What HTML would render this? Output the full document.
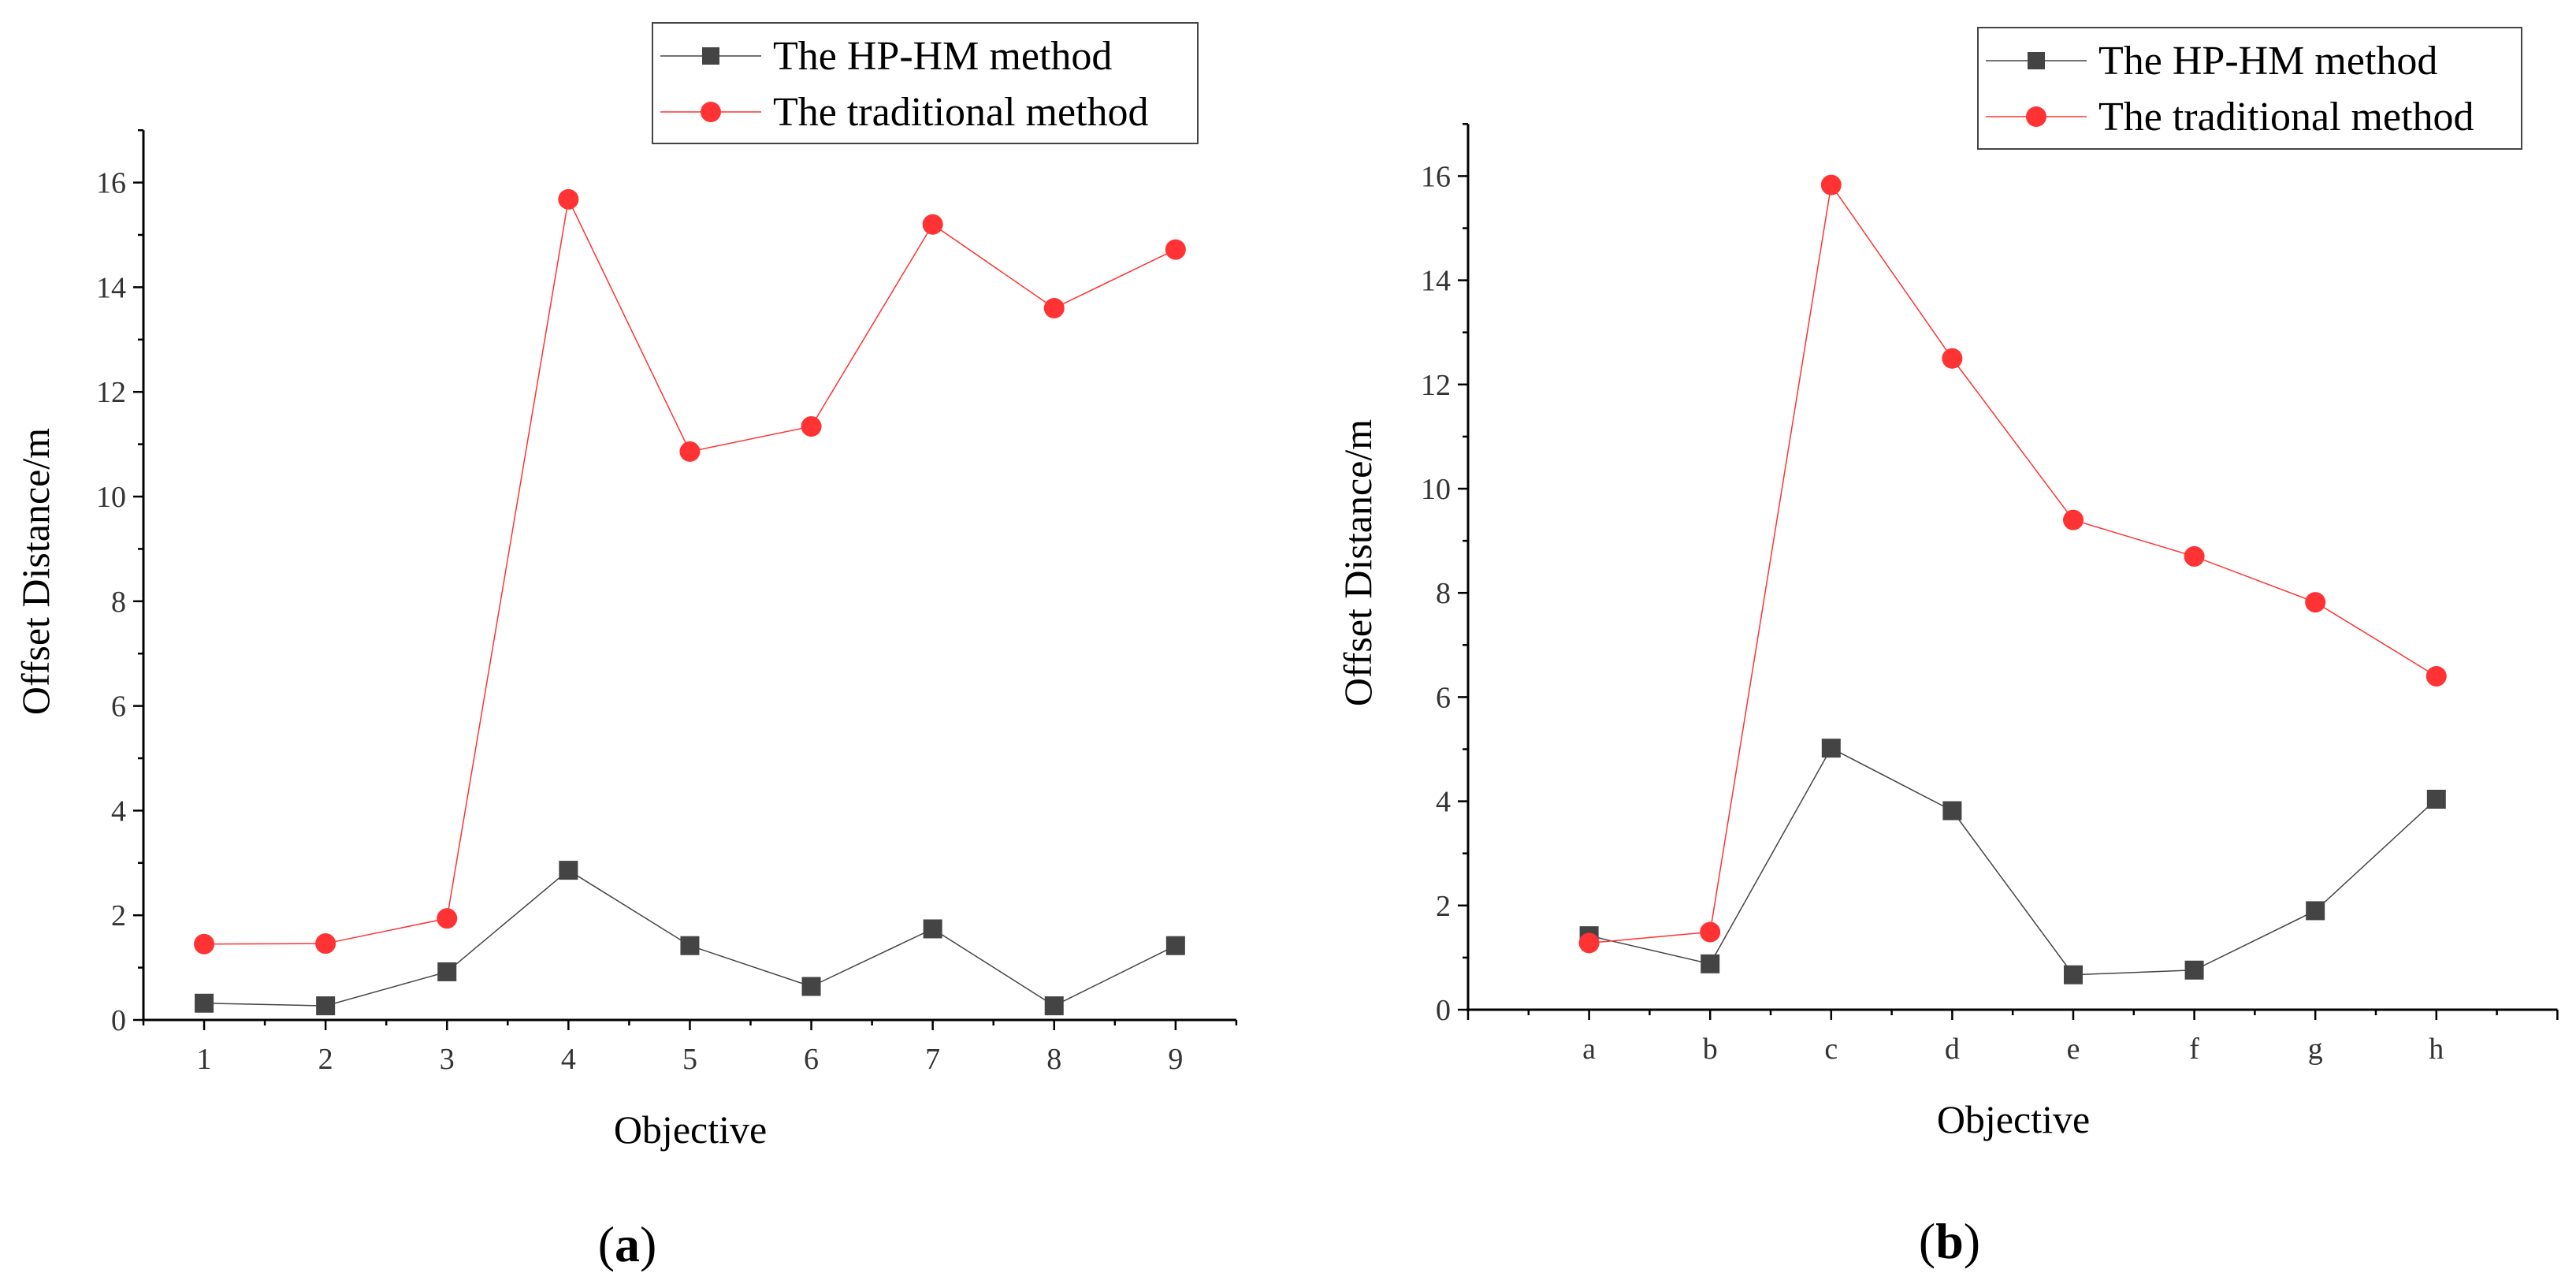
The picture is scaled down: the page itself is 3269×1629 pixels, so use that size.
<!DOCTYPE html>
<html><head><meta charset="utf-8"><style>
html,body{margin:0;padding:0;background:#fff;}
svg text{font-family:"Liberation Serif",serif;}
</style></head><body>
<svg id="fig" width="3269" height="1624" viewBox="0 0 3269 1624" xmlns="http://www.w3.org/2000/svg"></svg>
<script>
const catsA = ["1","2","3","4","5","6","7","8","9"];
const hpA = [0.32,0.27,0.92,2.86,1.42,0.64,1.74,0.27,1.42];
const tradA = [1.45,1.46,1.94,15.68,10.86,11.34,15.2,13.6,14.72];
const catsB = ["a","b","c","d","e","f","g","h"];
const hpB = [1.42,0.88,5.02,3.82,0.67,0.76,1.9,4.04];
const tradB = [1.28,1.49,15.83,12.5,9.4,8.7,7.82,6.4];
const yTicks = [0,2,4,6,8,10,12,14,16];

const NS = "http://www.w3.org/2000/svg";
const svg = document.getElementById("fig");
function mk(tag, attrs, parent, text){
  const e = document.createElementNS(NS, tag);
  for (const k in attrs) e.setAttribute(k, attrs[k]);
  if (text !== undefined) e.textContent = text;
  (parent || svg).appendChild(e);
  return e;
}

function chart(cfg){
  const g = mk("g", {});
  
  
  const yS = v => cfg.y0 - v * cfg.ppu;
  const xS = i => cfg.x0 + (i - cfg.iMin) * cfg.sp;
  // axes
  const ya = mk("line", {x1:cfg.x0, y1:yS(17), x2:cfg.x0, y2:cfg.y0, stroke:"#000","stroke-width":3}, g);
  
  
  const xEnd = xS(cfg.iMax);
  const xa = mk("line", {x1:cfg.x0-2, y1:cfg.y0, x2:xEnd, y2:cfg.y0, stroke:"#000","stroke-width":3}, g);
  
  
  // y ticks
  for (let v = 0; v <= 17; v++){
    const maj = v % 2 === 0;
    mk("line", {x1:cfg.x0 - (maj?13:7), y1:yS(v), x2:cfg.x0, y2:yS(v), stroke:"#000","stroke-width":2.5}, g);
  }
  yTicks.forEach(v => {
    const t = mk("text", {x:cfg.x0-22, y:yS(v)+13, "text-anchor":"end","font-size":38, fill:"#333"}, g, String(v));
    
    
  });
  // x ticks
  for (let k = cfg.iMin*2; k <= cfg.iMax*2; k++){
    const i = k/2;
    const maj = (k % 2 === 0) === cfg.majEven;
    mk("line", {x1:xS(i), y1:cfg.y0, x2:xS(i), y2:cfg.y0 + (maj?13:7), stroke:"#000","stroke-width":2.5}, g);
  }
  cfg.cats.forEach((c, i) => {
    const t = mk("text", {x:xS(i), y:cfg.y0+62, "text-anchor":"middle","font-size":38, fill:"#333"}, g, c);
    
    
  });
  // titles
  const yt = mk("text", {x:0, y:0, transform:`translate(${cfg.ytx},${cfg.yty}) rotate(-90)`, "text-anchor":"middle","font-size":50, fill:"#000"}, g, "Offset Distance/m");
  
  
  const xt = mk("text", {x:cfg.xtx, y:cfg.xty, "text-anchor":"middle","font-size":50, fill:"#000"}, g, "Objective");
  
  
  const lab = mk("text", {x:cfg.lx, y:cfg.ly, "text-anchor":"middle","font-size":64, fill:"#000"}, g);
  
  
  mk("tspan", {}, lab, "(");
  mk("tspan", {"font-weight":"bold"}, lab, cfg.letter);
  mk("tspan", {}, lab, ")");
  // series
  const hpPts = cfg.hp.map((v,i)=>xS(i)+","+yS(v)).join(" ");
  const trPts = cfg.tr.map((v,i)=>xS(i)+","+yS(v)).join(" ");
  const l1 = mk("polyline", {points:hpPts, fill:"none", stroke:"#444","stroke-width":1.5}, g);
  
  
  const l2 = mk("polyline", {points:trPts, fill:"none", stroke:"#f33","stroke-width":1.5}, g);
  
  
  cfg.hp.forEach((v,i)=>{
    const r = mk("rect", {x:xS(i)-12, y:yS(v)-12, width:24, height:24, fill:"#444"}, g);
    
    
  });
  cfg.tr.forEach((v,i)=>{
    const c = mk("circle", {cx:xS(i), cy:yS(v), r:13, fill:"#f33"}, g);
    
    
  });
  // legend
  const L = cfg.leg;
  const lg = mk("g", {}, g);
  
  
  mk("rect", {x:L.x, y:L.y, width:L.w, height:L.h, fill:"#fff", stroke:"#444","stroke-width":2}, lg);
  const r1 = L.y + 42, r2 = L.y + 113;
  const e1 = mk("g", {}, lg);
  
  
  mk("line", {x1:L.x+10, y1:r1, x2:L.x+138, y2:r1, stroke:"#444","stroke-width":1.5}, e1);
  mk("rect", {x:L.x+63, y:r1-11, width:22, height:22, fill:"#444"}, e1);
  mk("text", {x:L.x+153, y:r1+17, "font-size":52, fill:"#000"}, e1, "The HP-HM method");
  const e2 = mk("g", {}, lg);
  
  
  mk("line", {x1:L.x+10, y1:r2, x2:L.x+138, y2:r2, stroke:"#f33","stroke-width":1.5}, e2);
  mk("circle", {cx:L.x+74, cy:r2, r:13, fill:"#f33"}, e2);
  mk("text", {x:L.x+153, y:r2+17, "font-size":52, fill:"#000"}, e2, "The traditional method");
}

chart({name:"chart-a", cats:catsA, hp:hpA, tr:tradA, x0:182, y0:1294, ppu:66.4, sp:154.1, iMin:-0.5, iMax:8.5, majEven:true,
  ytx:62, yty:725, xtx:876, xty:1450, lx:796, ly:1600, letter:"a",
  leg:{x:828,y:29,w:692,h:153}});
chart({name:"chart-b", cats:catsB, hp:hpB, tr:tradB, x0:1863, y0:1281, ppu:66.1, sp:153.6, iMin:-1, iMax:8, majEven:true,
  ytx:1740, yty:714, xtx:2555, xty:1437, lx:2474, ly:1596, letter:"b",
  leg:{x:2510,y:35,w:690,h:154}});
</script>
</body></html>
